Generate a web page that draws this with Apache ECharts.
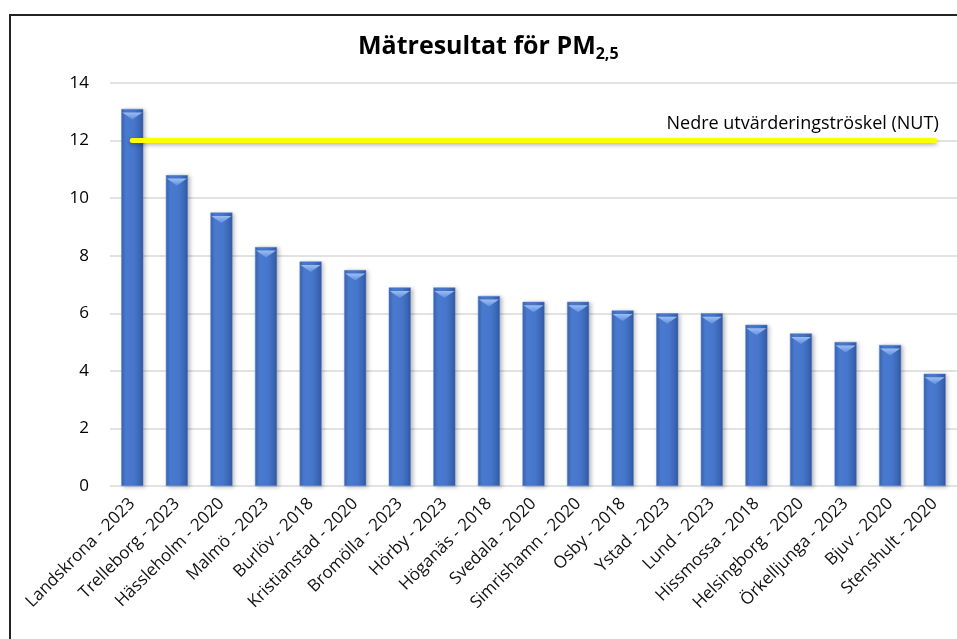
<!DOCTYPE html>
<html>
<head>
<meta charset="utf-8">
<title>Mätresultat för PM2,5</title>
<script src="https://cdn.jsdelivr.net/npm/echarts@6.0.0/dist/echarts.min.js"></script>
<style>
  html, body { margin: 0; padding: 0; background: #fff; }
  #chart { width: 957px; height: 639px; }
</style>
</head>
<body>
<div id="chart"></div>
<script>
// stations and measurement year
var stations = [
  'Landskrona - 2023', 'Trelleborg - 2023', 'Hässleholm - 2020', 'Malmö - 2023',
  'Burlöv - 2018', 'Kristianstad - 2020', 'Bromölla - 2023', 'Hörby - 2023',
  'Höganäs - 2018', 'Svedala - 2020', 'Simrishamn - 2020', 'Osby - 2018',
  'Ystad - 2023', 'Lund - 2023', 'Hissmossa - 2018', 'Helsingborg - 2020',
  'Örkelljunga - 2023', 'Bjuv - 2020', 'Stenshult - 2020'
];
// PM2,5 annual mean, µg/m3
var pm25 = [13.1, 10.8, 9.5, 8.3, 7.8, 7.5, 6.9, 6.9, 6.6, 6.4, 6.4, 6.1, 6.0, 6.0, 5.6, 5.3, 5.0, 4.9, 3.9];
var nutLevel = 12;
var nutLabel = 'Nedre utvärderingströskel (NUT)';
var yTicks = { min: 0, max: 14, interval: 2 };

var font = '"Open Sans", "Noto Sans", sans-serif';

var chart = echarts.init(document.getElementById('chart'));

var barColor = new echarts.graphic.LinearGradient(0, 0, 1, 0, [
  { offset: 0, color: '#3a63ad' },
  { offset: 0.2, color: '#4a7bd1' },
  { offset: 0.6, color: '#4676ca' },
  { offset: 0.9, color: '#3862b0' },
  { offset: 1, color: '#2c5293' }
]);

var bevelColor = new echarts.graphic.LinearGradient(0, 0, 0, 1, [
  { offset: 0, color: '#9dbdf2' },
  { offset: 1, color: '#5f8fdf' }
]);

var option = {
  backgroundColor: '#fff',
  animation: false,
  title: {
    text: '{a|Mätresultat för PM}{b|2,5}',
    left: 353,
    top: 26,
    textStyle: {
      rich: {
        a: { fontFamily: font, fontSize: 25, fontWeight: 'bold', color: '#000', lineHeight: 31 },
        b: { fontFamily: font, fontSize: 16, fontWeight: 'bold', color: '#000', lineHeight: 14, verticalAlign: 'bottom' }
      }
    }
  },
  grid: { left: 110, right: -6, top: 83, bottom: 153 },
  graphic: [{
    type: 'polyline',
    shape: { points: [[10, 639], [10, 15], [957, 15]] },
    style: { stroke: '#222', lineWidth: 2, fill: null },
    silent: true
  }],
  xAxis: {
    type: 'category',
    data: stations,
    axisLine: { show: false },
    axisTick: { show: false },
    axisLabel: {
      interval: 0,
      rotate: 45,
      margin: 15,
      fontFamily: font,
      fontSize: 17,
      color: '#111'
    }
  },
  yAxis: {
    type: 'value',
    min: yTicks.min,
    max: yTicks.max,
    interval: yTicks.interval,
    axisLine: { show: false },
    axisTick: { show: false },
    axisLabel: { fontFamily: font, fontSize: 17, color: '#000', margin: 21 },
    splitLine: { lineStyle: { color: '#d9d9d9', width: 1.5 } }
  },
  series: [{
    type: 'bar',
    data: pm25,
    barWidth: 22,
    barGap: '-100%',
    z: 2,
    itemStyle: {
      color: barColor,
      borderColor: '#5a86d4',
      borderWidth: 0.5,
      shadowColor: 'rgba(0,0,0,0.25)',
      shadowBlur: 4,
      shadowOffsetX: 2,
      shadowOffsetY: 1
    },
    markLine: {
      silent: true,
      symbol: ['none', 'none'],
      z: 5,
      lineStyle: {
        color: '#ffff00',
        width: 5,
        type: 'solid',
        cap: 'round',
        shadowColor: 'rgba(0,0,0,0.3)',
        shadowBlur: 4,
        shadowOffsetY: 2
      },
      label: {
        show: true,
        position: 'insideEndTop',
        distance: [-4, 8],
        formatter: nutLabel,
        fontFamily: font,
        fontSize: 18,
        color: '#000'
      },
      data: [[
        { coord: [stations[0], nutLevel] },
        { coord: [stations[stations.length - 1], nutLevel] }
      ]]
    }
  }, {
    // light bevel at the top of each bar
    type: 'pictorialBar',
    data: pm25,
    barGap: '-100%',
    symbol: 'path://M0,0 L20,0 L10,6 Z',
    symbolSize: [20, 7],
    symbolPosition: 'end',
    symbolOffset: [0, '50%'],
    silent: true,
    z: 3,
    itemStyle: { color: bevelColor }
  }]
};

chart.setOption(option);
</script>
</body>
</html>
